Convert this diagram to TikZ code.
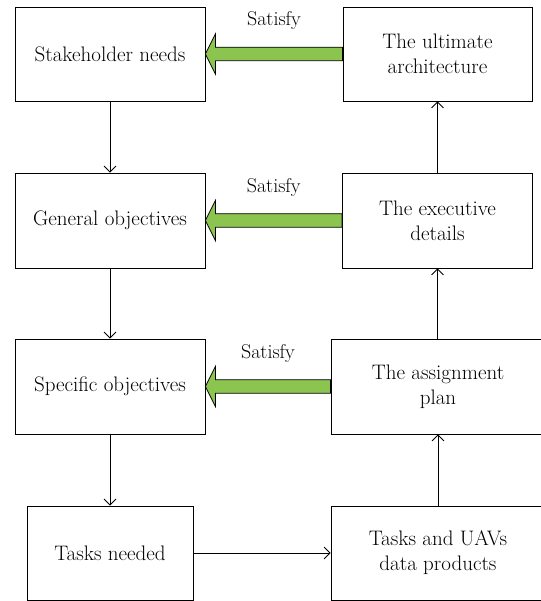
\documentclass[tikz,border=0pt]{standalone}
\usepackage{fontspec}
\setmainfont{Latin Modern Roman}
\usetikzlibrary{arrows.meta,calc}
\definecolor{satgreen}{RGB}{139,197,80}
\begin{document}
\begin{tikzpicture}[x=1pt,y=1pt,
  box/.style={draw,line width=0.8pt,inner sep=0pt,align=center,
    font=\fontsize{21}{25}\selectfont},
  flow/.style={draw,line width=0.8pt,-{Straight Barb[length=6pt,width=12pt,line width=0.8pt]}},
  fat/.style={draw,line width=0.8pt,fill=satgreen,line join=miter},
  satlab/.style={font=\fontsize{20}{23}\selectfont,inner sep=0pt}]
\useasboundingbox (0,0) rectangle (540,601);
% left column
\node[box,minimum width=190pt,minimum height=94pt] (sn) at (110,547) {Stakeholder needs};
\node[box,minimum width=190pt,minimum height=95pt] (go) at (110,380.5) {General objectives};
\node[box,minimum width=190pt,minimum height=95pt] (so) at (110,214.5) {Specific objectives};
\node[box,minimum width=166pt,minimum height=94pt] (tn) at (110,48) {Tasks needed};
% right column
\node[box,minimum width=189pt,minimum height=94pt] (ua) at (437.5,547) {The ultimate\\architecture};
\node[box,minimum width=190pt,minimum height=95pt] (ed) at (437.5,380.5) {The executive\\details};
\node[box,minimum width=214pt,minimum height=95pt] (ap) at (438,214.5) {The assignment\\plan};
\node[box,minimum width=214pt,minimum height=94pt] (tu) at (438,48) {Tasks and UAVs\\data products};
% flow arrows
\draw[flow] (sn) -- (go);
\draw[flow] (go) -- (so);
\draw[flow] (so) -- (tn);
\draw[flow] (tn) -- (tu);
\draw[flow] (tu.north -| ap) -- (ap);
\draw[flow] (ap.north -| ed) -- (ed);
\draw[flow] (ed) -- (ua);
% satisfy arrows
\foreach \src/\dst/\nm in {ua/sn/s1, ed/go/s2, ap/so/s3}{
  \filldraw[fat] ($(\src.west)+(0,6.75)$) -- ($(\dst.east)+(10,6.75)$) -- ($(\dst.east)+(10,20)$)
    -- (\dst.east) -- ($(\dst.east)+(10,-20)$) -- ($(\dst.east)+(10,-6.75)$)
    -- ($(\src.west)+(0,-6.75)$) -- cycle;
  \coordinate (\nm) at ($(\src.west)!0.5!(\dst.east)+(0,33)$);
  \node[satlab] at (\nm) {Satisfy};
}
\end{tikzpicture}
\end{document}
